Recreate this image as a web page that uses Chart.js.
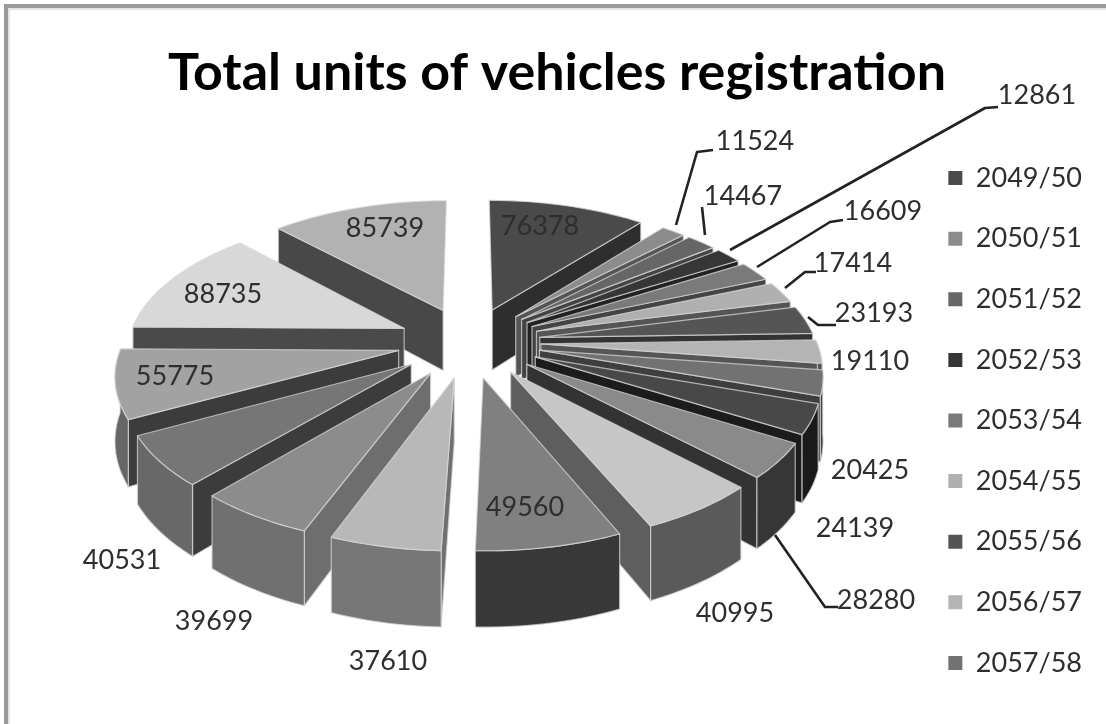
<!DOCTYPE html>
<html><head><meta charset="utf-8">
<style>
html,body{margin:0;padding:0;background:#fff;overflow:hidden}
#wrap{position:absolute;left:0;top:0;width:1106px;height:724px}
canvas{filter:blur(0.7px)}
</style>
<script src="https://cdn.jsdelivr.net/npm/chart.js@4"></script>
</head><body><div id="wrap"><canvas id="c" width="1106" height="724"></canvas></div>
<script>
const categories=["2049/50","2050/51","2051/52","2052/53","2053/54","2054/55","2055/56","2056/57","2057/58","2058/59","2059/60","2060/61","2061/62","2062/63","2063/64","2064/65","2065/66","2066/67","2067/68"];
const registrations=[76378,11524,14467,12861,16609,17414,23193,19110,20425,24139,28280,40995,49560,37610,39699,40531,55775,88735,85739];
const titleText="Total units of vehicles registration";
const topColors=["#4a4a4a","#8c8c8c","#666666","#363636","#7a7a7a","#b0b0b0","#555555","#b4b4b4","#727272","#484848","#8a8a8a","#c6c6c6","#808080","#b8b8b8","#8c8c8c","#767676","#a2a2a2","#d8d8d8","#b2b2b2"];
const sideColors=["#2e2e2e","#555555","#444444","#222222","#444444","#555555","#333333","#555555","#3e3e3e","#1c1c1c","#333333","#5e5e5e","#3a3a3a","#707070","#6e6e6e","#3c3c3c","#3c3c3c","#4a4a4a","#484848"];
const outerColors=["#333333","#555555","#444444","#222222","#444444","#555555","#333333","#555555","#404040","#1a1a1a","#363636","#5a5a5a","#383838","#777777","#707070","#686868","#666666","#4a4a4a","#484848"];
// label placement (centre of text), leader-line paths
const labelAt=[[540,226],[755,141],[743,196],[1037,95],[883,211],[853,263],[874,313],[870,361],[870,470],[855,528],[876,600],[735,613],[525,507],[388,661],[214,621],[122,560],[175,376],[223,294],[385,228]];
const leaders=[[[676,225],[697,152],[713,150]],[[705,235],[702,207]],[[730,250],[985,108],[998,107]],[[757,267],[830,222],[843,220]],[[785,288],[805,272],[816,272]],[[808,317],[818,325],[836,325]],[[775,535],[825,607],[838,607]]];
// projection of the pie plane
const VIEW={cx:469,cy:342,B:276,A:135,p:0.15,e:0.26,H:62};
function proj(u,v){const d=1+VIEW.p*v;return {x:VIEW.cx+VIEW.B*u/d,y:VIEW.cy-VIEW.A*v/d,drop:VIEW.H/d};}
function pie3d(ctx,arc,i){
  const s=arc.startAngle,en=arc.endAngle,m=(s+en)/2;
  const ou=Math.cos(m)*VIEW.e,ov=-Math.sin(m)*VIEW.e;
  const pt=a=>proj(ou+Math.cos(a),ov-Math.sin(a));
  const apex=proj(ou,ov);
  const edge=(a,col)=>{const q=pt(a);
    ctx.beginPath();ctx.moveTo(apex.x,apex.y);ctx.lineTo(q.x,q.y);ctx.lineTo(q.x,q.y+q.drop);ctx.lineTo(apex.x,apex.y+apex.drop);ctx.closePath();
    ctx.fillStyle=col;ctx.fill();ctx.stroke();};
  ctx.lineWidth=1.2;ctx.strokeStyle="rgba(215,215,215,0.75)";ctx.lineJoin="round";
  if(Math.cos(s)<0)edge(s,sideColors[i]);
  if(Math.cos(en)>0)edge(en,sideColors[i]);
  const a0=Math.max(s,0),a1=Math.min(en,Math.PI);
  if(a1>a0){
    ctx.beginPath();const n=Math.max(4,Math.ceil((a1-a0)*40));const bot=[];
    for(let k=0;k<=n;k++){const q=pt(a0+(a1-a0)*k/n);k?ctx.lineTo(q.x,q.y):ctx.moveTo(q.x,q.y);bot.push(q);}
    for(const q of bot.reverse())ctx.lineTo(q.x,q.y+q.drop);
    ctx.closePath();ctx.fillStyle=outerColors[i];ctx.fill();ctx.stroke();
  }
  ctx.beginPath();ctx.moveTo(apex.x,apex.y);
  const n=Math.max(6,Math.ceil((en-s)*40));
  for(let k=0;k<=n;k++){const q=pt(s+(en-s)*k/n);ctx.lineTo(q.x,q.y);}
  ctx.closePath();ctx.fillStyle=topColors[i];ctx.fill();ctx.stroke();
}
const pie3dPlugin={id:'pie3d',
  beforeDraw(chart){const c=chart.ctx;c.save();c.fillStyle="#fff";c.fillRect(0,0,1106,724);
    c.fillStyle="#9a9a9a";c.fillRect(4,4,1102,4);c.fillRect(4,4,4,720);
    c.fillStyle="#e4e4e4";c.fillRect(8,8,1098,2);c.fillRect(8,8,2,716);c.restore();},
  beforeDatasetsDraw(chart){
    const ctx=chart.ctx,arcs=chart.getDatasetMeta(0).data;
    const order=arcs.map((a,i)=>i).sort((p,q)=>Math.sin((arcs[p].startAngle+arcs[p].endAngle)/2)-Math.sin((arcs[q].startAngle+arcs[q].endAngle)/2));
    ctx.save();
    for(const i of order)pie3d(ctx,arcs[i],i);
    ctx.strokeStyle="#222";ctx.lineWidth=2.6;ctx.lineJoin="round";
    for(const l of leaders){ctx.beginPath();l.forEach((p,k)=>k?ctx.lineTo(p[0],p[1]):ctx.moveTo(p[0],p[1]));ctx.stroke();}
    ctx.font="27px Lato";ctx.fillStyle="#2e2e2e";ctx.textAlign="center";ctx.textBaseline="middle";
    registrations.forEach((v,i)=>ctx.fillText(String(v),labelAt[i][0],labelAt[i][1]));
    ctx.restore();
    return false;
  }};
new Chart(document.getElementById('c'),{type:'pie',
  data:{labels:categories,datasets:[{data:registrations,backgroundColor:topColors,borderWidth:0}]},
  options:{responsive:false,animation:false,
    layout:{padding:{left:22,right:14,top:0,bottom:14}},
    plugins:{
      tooltip:{enabled:false},
      title:{display:true,text:titleText,color:"#000",font:{family:"Lato",size:52,weight:"bold"},padding:{top:42,bottom:20}},
      legend:{position:'right',align:'end',
        labels:{filter:it=>it.index<9,boxWidth:14,boxHeight:14,color:"#2e2e2e",font:{family:"Lato",size:27},padding:33.6}}
    }},
  plugins:[pie3dPlugin]});
</script></body></html>
